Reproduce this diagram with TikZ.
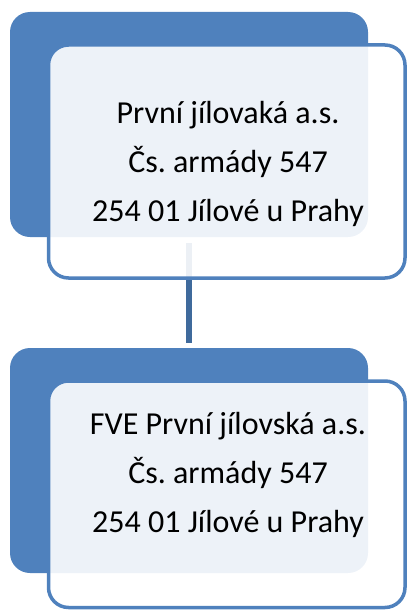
\documentclass[tikz,border=0pt]{standalone}
\usepackage{fontspec}
\setmainfont{Carlito}
\frenchspacing
\definecolor{accent}{HTML}{4F81BD}
\definecolor{connclr}{HTML}{3F6A9C}
\begin{document}
\begin{tikzpicture}[x=1pt,y=-1pt,
  backbox/.style={fill=accent, draw=none, rounded corners=20pt, inner sep=0pt, outer sep=0pt},
  frontbox/.style={draw=accent, line width=3.5pt, fill=white, fill opacity=0.9, rounded corners=20pt, inner sep=0pt, outer sep=0pt, minimum width=356.5pt},
  txt/.style={font=\fontsize{32}{49}\selectfont, align=center, inner sep=0pt, text=black},
  conn/.style={draw=connclr, line width=6pt}]
\useasboundingbox (0,0) rectangle (408,610);
\clip (0,0) rectangle (408,610);
% back boxes
\node[backbox, minimum width=358pt, minimum height=225pt] (b1) at (189,124.5) {};
\node[backbox, minimum width=358pt, minimum height=225pt] (b2) at (189,460.5) {};
% connector
\draw[conn, shorten <=6pt, shorten >=5.3pt] (b1.south) -- (b2.north);
% front boxes
\node[frontbox, minimum height=233pt] (f1) at (226.75,161.5) {};
\node[frontbox, minimum height=226.5pt] (f2) at (226.75,494.25) {};
% texts (base anchor = baseline of the last line)
\node[txt, anchor=base] (t1) at (228,221) {První jílovaká a.s.\\Čs. armády 547\\254 01 Jílové u Prahy};
\node[txt, anchor=base] (t2) at (228,532) {FVE První jílovská a.s.\\Čs. armády 547\\254 01 Jílové u Prahy};
\end{tikzpicture}
\end{document}
